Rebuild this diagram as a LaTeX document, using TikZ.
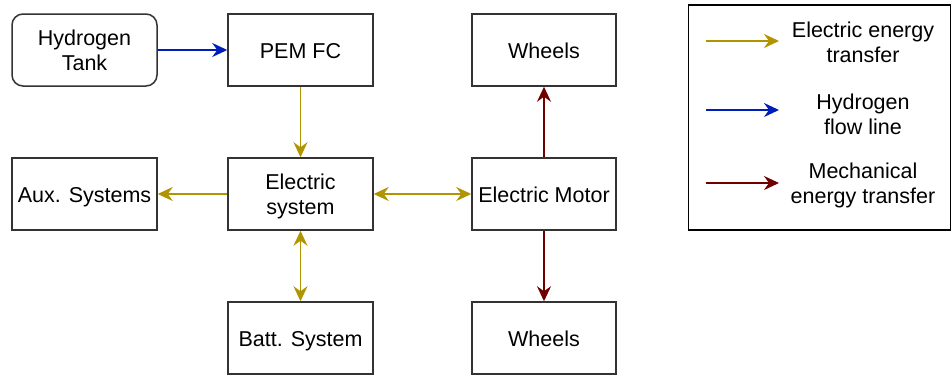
\documentclass[tikz,border=0pt]{standalone}
\usepackage{fontspec}
\setmainfont{Liberation Sans}
\usetikzlibrary{arrows.meta}
\definecolor{elec}{HTML}{B09500}
\definecolor{hyd}{HTML}{001DBC}
\definecolor{mech}{HTML}{6F0000}
\definecolor{boxline}{HTML}{333333}
\tikzset{
  blk/.style={draw=boxline, line width=1.5pt, fill=white, inner sep=0pt, align=center,
    font=\fontsize{21.5}{25}\selectfont},
  one/.style={text height=17pt, text depth=0pt},
  conn/.style={line width=1.6pt, -{Stealth[length=15pt,width=14pt,inset=5pt]}},
  bconn/.style={line width=1.6pt, {Stealth[length=15pt,width=14pt,inset=5pt]}-{Stealth[length=15pt,width=14pt,inset=5pt]}},
  lbl/.style={align=center, inner sep=0pt, font=\fontsize{21.5}{25}\selectfont}
}
\begin{document}
\begin{tikzpicture}[x=1pt,y=-1pt]
\useasboundingbox (0,0) rectangle (951,378);
% boxes
\node[blk, rounded corners=11pt, minimum width=145pt, minimum height=72pt] (tank) at (84.5,50) {Hydrogen\\Tank};
\node[blk, one, minimum width=145pt, minimum height=72pt] (pem) at (300.5,50) {PEM FC};
\node[blk, one, minimum width=144pt, minimum height=72pt] (wt) at (544,50) {Wheels};
\node[blk, one, minimum width=145pt, minimum height=72pt] (aux) at (84.5,194) {Aux. Systems};
\node[blk, minimum width=145pt, minimum height=72pt, text depth=-1.5pt] (es) at (300.5,194) {Electric\\system};
\node[blk, one, minimum width=144pt, minimum height=72pt] (em) at (544,194) {Electric Motor};
\node[blk, one, minimum width=145pt, minimum height=72pt] (bat) at (300.5,338) {Batt. System};
\node[blk, one, minimum width=144pt, minimum height=72pt] (wb) at (544,338) {Wheels};
% connectors
\draw[conn, hyd] (tank) -- (pem);
\draw[conn, elec] (pem) -- (es);
\draw[conn, elec] (es) -- (aux);
\draw[bconn, elec] (es) -- (em);
\draw[bconn, elec] (es) -- (bat);
\draw[conn, mech] (em) -- (wt);
\draw[conn, mech] (em) -- (wb);
% legend
\node[draw=black, line width=1.5pt, minimum width=262pt, minimum height=225pt, inner sep=0pt] (leg) at (819.5,117.5) {};
\coordinate (l1a) at (706,41); \coordinate (l1b) at (779,41);
\coordinate (l2a) at (706,110); \coordinate (l2b) at (779,110);
\coordinate (l3a) at (706,183); \coordinate (l3b) at (779,183);
\draw[conn, elec] (l1a) -- (l1b);
\draw[conn, hyd] (l2a) -- (l2b);
\draw[conn, mech] (l3a) -- (l3b);
\node[lbl] (t1) at (863,42) {Electric energy\\transfer};
\node[lbl] (t2) at (863,114) {Hydrogen\\flow line};
\node[lbl] (t3) at (863,185) {Mechanical\\energy transfer};
\end{tikzpicture}
\end{document}
